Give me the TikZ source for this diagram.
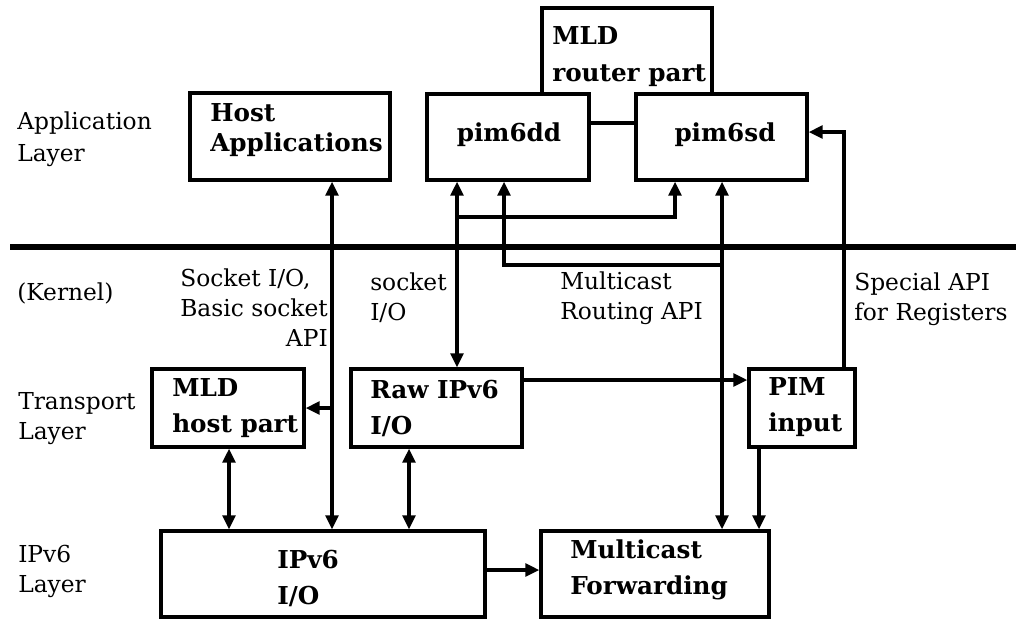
\documentclass[tikz,border=0pt]{standalone}
\usepackage{fontspec}
\setmainfont{DejaVu Serif}
\usetikzlibrary{arrows.meta}
% text styles: box labels and layer/API captions
\newcommand\boxfont{\bfseries\fontsize{18.5}{27}\selectfont}
\newcommand\capfont{\fontsize{17.5}{22.5}\selectfont}
\begin{document}
\begin{tikzpicture}[x=0.75pt, y=-0.75pt,
  box/.style={draw, fill=white, line width=2.5pt, inner sep=0pt},
  lbl/.style={font=\boxfont, align=left, anchor=west, inner sep=0pt},
  captext/.style={font=\capfont, align=left, anchor=west, inner sep=0pt},
  link/.style={line width=2.5pt, >={Triangle[length=10.5pt,width=9.5pt]}},
  boundary/.style={line width=4.8pt}]
\useasboundingbox (0,0) rectangle (1016,619);

% column and row helpers
\coordinate (c229) at (229,0);
\coordinate (c332) at (332,0);
\coordinate (c409) at (409,0);
\coordinate (c457) at (457,0);
\coordinate (c504) at (504,0);
\coordinate (c675) at (675,0);
\coordinate (c722) at (722,0);
\coordinate (c759) at (759,0);
\coordinate (c844) at (844,0);
\coordinate (r132) at (0,132);
\coordinate (r380) at (0,380);
\coordinate (r570) at (0,570);

% user/kernel boundary
\coordinate (sepL) at (10,247);
\coordinate (sepR) at (1016,247);
\draw[boundary] (sepL) -- (sepR);

% boxes
\node[box, minimum width=127.5pt, minimum height=86.25pt] (mldr) at (627,65.5) {};
\node[box, minimum width=121.5pt, minimum height=64.5pt] (pim6dd) at (508,137) {};
\node[box, minimum width=128.25pt, minimum height=64.5pt] (pim6sd) at (721.5,137) {};
\node[box, minimum width=150pt, minimum height=65.25pt] (hostapp) at (290,136.5) {};
\node[box, minimum width=114pt, minimum height=58.5pt] (mldh) at (228,408) {};
\node[box, minimum width=128.25pt, minimum height=58.5pt] (raw) at (436.5,408) {};
\node[box, minimum width=79.5pt, minimum height=58.5pt] (pim) at (802,408) {};
\node[box, minimum width=243pt, minimum height=64.5pt] (ipv6) at (323,574) {};
\node[box, minimum width=171pt, minimum height=64.5pt] (mfwd) at (655,574) {};

% box labels
\node[lbl, font=\bfseries\fontsize{18.5}{27.75}\selectfont] (mldr-l) at (552,56.5) {MLD\\router part};
\node[lbl, anchor=center] (pim6dd-l) at (509,135) {pim6dd};
\node[lbl, anchor=center] (pim6sd-l) at (725,135) {pim6sd};
\node[lbl, font=\bfseries\fontsize{18.5}{22.5}\selectfont] (hostapp-l) at (210,130) {Host\\Applications};
\node[lbl] (mldh-l) at (172,408) {MLD\\host part};
\node[lbl] (raw-l) at (370,408) {Raw IPv6\\I/O};
\node[lbl] (pim-l) at (768,407.5) {PIM\\input};
\node[lbl] (ipv6-l) at (277,578.5) {IPv6\\I/O};
\node[lbl] (mfwd-l) at (570,569.5) {Multicast\\Forwarding};

% layer captions
\node[captext, font=\fontsize{17.5}{24}\selectfont] (appl) at (17,139) {Application\\Layer};
\node[captext] (kern) at (17,293) {(Kernel)};
\node[captext] (trl) at (18,419) {Transport\\Layer};
\node[captext] (ipl) at (18,571) {IPv6\\Layer};

% interface captions
\node[captext, anchor=east] (sockapi) at (328,310) {\begin{tabular}{@{}l@{}}Socket I/O,\\Basic socket\\\multicolumn{1}{@{}r@{}}{API}\end{tabular}};
\node[captext] (sockio) at (370,298) {socket\\I/O};
\node[captext] (mrapi) at (560,298) {Multicast\\Routing API};
\node[captext] (regapi) at (854,299) {Special API\\for Registers};

% connectors
\draw[link,<->] (hostapp.south -| c332) -- (ipv6.north -| c332);
\coordinate (tap) at (332,408);
\draw[link,->] (tap) -- (mldh.east |- tap);
\draw[link,<->] (mldh.south -| c229) -- (ipv6.north -| c229);
\draw[link,<->] (raw.south -| c409) -- (ipv6.north -| c409);
\draw[link,<->] (pim6dd.south -| c457) -- (raw.north -| c457);
\coordinate (br) at (457,217);
\draw[link,->] (br) -| (pim6sd.south -| c675);
\coordinate (mj) at (722,265);
\draw[link,<-] (pim6dd.south -| c504) |- (mj);
\draw[link,<->] (pim6sd.south -| c722) -- (mfwd.north -| c722);
\draw[link,->] (raw.east |- r380) -- (pim.west |- r380);
\draw[link,->] (pim.north -| c844) |- (pim6sd.east |- r132);
\draw[link,->] (pim.south -| c759) -- (mfwd.north -| c759);
\draw[link,->] (ipv6.east |- r570) -- (mfwd.west |- r570);
\end{tikzpicture}
\end{document}
